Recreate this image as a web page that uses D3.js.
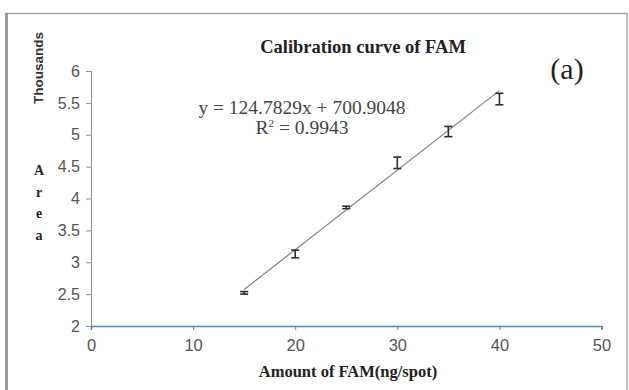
<!DOCTYPE html>
<html><head><meta charset="utf-8">
<script src="https://cdn.jsdelivr.net/npm/d3@7"></script>
<style>body{margin:0;background:#fff}svg{display:block}</style>
</head><body><svg id="c" width="629" height="390"></svg>
<script>
const amounts = [15, 20, 25, 30, 35, 40];
const areas = [2.52, 3.13, 3.86, 4.56, 5.05, 5.56];      // thousands
const errors = [0.02, 0.06, 0.02, 0.09, 0.08, 0.09];
const slope = 124.7829, intercept = 700.9048;             // area units
const xTicks = [0, 10, 20, 30, 40, 50];
const yTicks = [2, 2.5, 3, 3.5, 4, 4.5, 5, 5.5, 6];

const svg = d3.select("#c");
const x = d3.scaleLinear().domain([0, 50]).range([91, 601.5]);
const y = d3.scaleLinear().domain([2, 6]).range([326, 71]);

// frame
svg.append("rect").attr("x", 7).attr("y", 13.5).attr("width", 620).attr("height", 390)
  .attr("fill", "#fff").attr("stroke", "#a6a6a6").attr("stroke-width", 1.5);
svg.append("line").attr("x1", 6.5).attr("x2", 6.5).attr("y1", 13).attr("y2", 390)
  .attr("stroke", "#9a9a9a").attr("stroke-width", 3);

const sans = "Liberation Sans, Arial, sans-serif";
// y axis
const ya = svg.append("g").attr("transform", "translate(91,0)")
  .call(d3.axisLeft(y).tickValues(yTicks).tickSize(5).tickPadding(6).tickFormat(d3.format("")));
ya.select(".domain").attr("stroke", "#8c8c8c");
ya.selectAll(".tick line").attr("stroke", "#8c8c8c");
ya.selectAll("text").attr("font-family", sans).attr("font-size", 16).attr("fill", "#555");

// x axis
const xa = svg.append("g").attr("transform", "translate(0,326)")
  .call(d3.axisBottom(x).tickValues(xTicks).tickSize(4).tickPadding(9));
xa.select(".domain").attr("stroke", "#4f81bd").attr("stroke-width", 1.5);
xa.selectAll(".tick line").attr("stroke", "#4f81bd");
xa.selectAll("text").attr("font-family", sans).attr("font-size", 16.5).attr("fill", "#555");

// trendline
const fx = v => (slope * v + intercept) / 1000;
const xmin = d3.min(amounts), xmax = d3.max(amounts);
svg.append("line").attr("x1", x(xmin)).attr("y1", y(fx(xmin)))
  .attr("x2", x(xmax)).attr("y2", y(fx(xmax)))
  .attr("stroke", "#808080").attr("stroke-width", 1.2);

// error bars
const eb = svg.append("g").attr("stroke", "#2b2b3a").attr("stroke-width", 1.6);
amounts.forEach((a, i) => {
  const cx = x(a), top = y(areas[i] + errors[i]), bot = y(areas[i] - errors[i]);
  eb.append("line").attr("x1", cx).attr("x2", cx).attr("y1", top).attr("y2", bot);
  eb.append("line").attr("x1", cx - 4).attr("x2", cx + 4).attr("y1", top).attr("y2", top);
  eb.append("line").attr("x1", cx - 4).attr("x2", cx + 4).attr("y1", bot).attr("y2", bot);
});

const serif = "Liberation Serif, Times New Roman, serif";
// title
svg.append("text").attr("x", 363).attr("y", 53).attr("text-anchor", "middle")
  .attr("font-family", serif).attr("font-weight", "bold").attr("font-size", 18.5)
  .attr("fill", "#222").text("Calibration curve of FAM");
svg.append("text").attr("x", 567).attr("y", 79).attr("text-anchor", "middle")
  .attr("font-family", serif).attr("font-size", 30).attr("fill", "#222").text("(a)");
// equation
svg.append("text").attr("x", 302).attr("y", 114).attr("text-anchor", "middle")
  .attr("font-family", serif).attr("font-size", 19.5).attr("fill", "#444")
  .text("y = 124.7829x + 700.9048");
const r2 = svg.append("text").attr("x", 302).attr("y", 134).attr("text-anchor", "middle")
  .attr("font-family", serif).attr("font-size", 19.5).attr("fill", "#444");
r2.append("tspan").text("R");
r2.append("tspan").attr("font-size", 11).attr("dy", -7).text("2");
r2.append("tspan").attr("dy", 7).text(" = 0.9943");

// Thousands
svg.append("text").attr("transform", "translate(43,68) rotate(-90)").attr("text-anchor", "middle")
  .attr("font-family", sans).attr("font-weight", "bold")
  .attr("font-size", 13.5).attr("fill", "#333").text("Thousands");
// A r e a
["A", "r", "e", "a"].forEach((ch, i) => {
  svg.append("text").attr("x", 39).attr("y", 175 + i * 21.5).attr("text-anchor", "middle")
    .attr("font-family", serif).attr("font-weight", "bold").attr("font-size", 14)
    .attr("fill", "#222").text(ch);
});
// x label
svg.append("text").attr("x", 348).attr("y", 377).attr("text-anchor", "middle")
  .attr("font-family", serif).attr("font-weight", "bold").attr("font-size", 16.5)
  .attr("fill", "#222").text("Amount of FAM(ng/spot)");
</script></body></html>
